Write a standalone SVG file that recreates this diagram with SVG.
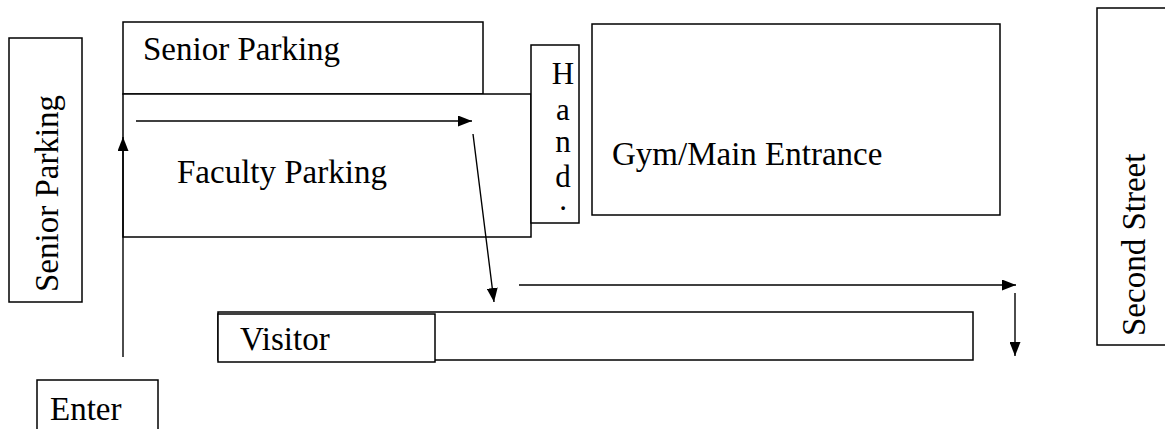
<svg xmlns="http://www.w3.org/2000/svg" width="1165" height="429" viewBox="0 0 1165 429">
<defs>
  <marker id="ah" markerUnits="userSpaceOnUse" markerWidth="14" markerHeight="11" refX="14" refY="5.5" orient="auto">
    <path d="M0,0 L14,5.5 L0,11 Z" fill="#000"/>
  </marker>
</defs>
<rect width="1165" height="429" fill="#fff"/>
<g id="senior-left">
  <rect x="9" y="38" width="73" height="264" fill="#fff" stroke="#000" stroke-width="1.5"/>
  <text style="font-family:'Liberation Serif',serif;font-size:33px" transform="translate(58,292) rotate(-90)">Senior Parking</text>
</g>
<g id="senior-top">
  <rect x="123" y="22" width="360" height="72" fill="#fff" stroke="#000" stroke-width="1.5"/>
  <text style="font-family:'Liberation Serif',serif;font-size:33px" x="143" y="60">Senior Parking</text>
</g>
<g id="faculty">
  <rect x="123" y="94" width="408" height="143" fill="#fff" stroke="#000" stroke-width="1.5"/>
  <text style="font-family:'Liberation Serif',serif;font-size:33px" x="177" y="183">Faculty Parking</text>
</g>
<g id="hand">
  <rect x="531" y="45" width="48" height="178" fill="#fff" stroke="#000" stroke-width="1.5"/>
  <text style="font-family:'Liberation Serif',serif;font-size:31px" text-anchor="middle"><tspan x="563" y="84">H</tspan><tspan x="563" y="120">a</tspan><tspan x="563" y="152">n</tspan><tspan x="563" y="187">d</tspan><tspan x="563" y="210">.</tspan></text>
</g>
<g id="gym">
  <rect x="592" y="24" width="408" height="191" fill="#fff" stroke="#000" stroke-width="1.5"/>
  <text style="font-family:'Liberation Serif',serif;font-size:33px" x="612" y="165">Gym/Main Entrance</text>
</g>
<g id="second-street">
  <rect x="1097" y="8" width="80" height="337" fill="#fff" stroke="#000" stroke-width="1.5"/>
  <text style="font-family:'Liberation Serif',serif;font-size:33px" transform="translate(1145,336) rotate(-90)">Second Street</text>
</g>
<g id="visitor-lane">
  <rect x="218" y="312" width="755" height="48" fill="#fff" stroke="#000" stroke-width="1.5"/>
</g>
<g id="visitor">
  <rect x="218" y="314" width="217" height="48" fill="#fff" stroke="#000" stroke-width="1.5"/>
  <text style="font-family:'Liberation Serif',serif;font-size:33px" x="240" y="350">Visitor</text>
</g>
<g id="enter">
  <rect x="37" y="380" width="121" height="60" fill="#fff" stroke="#000" stroke-width="1.5"/>
  <text style="font-family:'Liberation Serif',serif;font-size:33px" x="50" y="420">Enter</text>
</g>
<g id="connectors" stroke="#000" stroke-width="1.4" fill="none">
  <line x1="123" y1="357" x2="123" y2="137" marker-end="url(#ah)"/>
  <line x1="136" y1="121" x2="472" y2="121" marker-end="url(#ah)"/>
  <line x1="473" y1="134" x2="494" y2="302" marker-end="url(#ah)"/>
  <line x1="519" y1="285" x2="1016" y2="285" marker-end="url(#ah)"/>
  <line x1="1015" y1="293" x2="1015" y2="356" marker-end="url(#ah)"/>
</g>
</svg>
